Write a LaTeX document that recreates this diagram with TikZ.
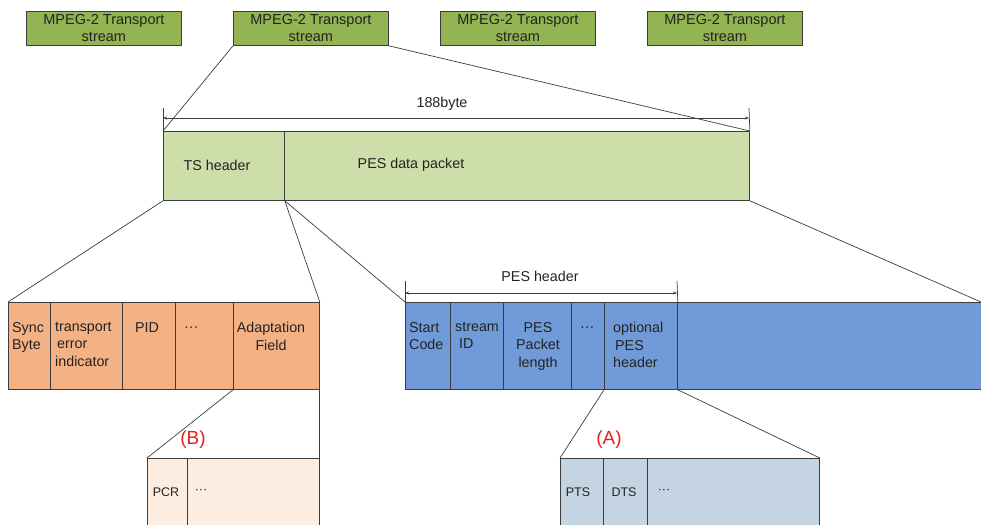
\documentclass[tikz,border=0pt]{standalone}
\usepackage{fontspec}
\setmainfont{Liberation Sans}
\usetikzlibrary{arrows.meta}
\definecolor{bordc}{RGB}{60,60,60}
\definecolor{txtc}{RGB}{35,35,35}
\definecolor{topg}{RGB}{146,180,82}
\definecolor{tsg}{RGB}{205,222,170}
\definecolor{orng}{RGB}{244,177,132}
\definecolor{blu}{RGB}{112,155,216}
\definecolor{lorng}{RGB}{253,236,224}
\definecolor{lblu}{RGB}{197,212,227}
\definecolor{redl}{RGB}{230,30,30}
\tikzset{
  cell/.style={draw=bordc, line width=0.8pt, rectangle, inner sep=0pt, anchor=north west},
  topbox/.style={cell, fill=topg, minimum width=155pt, minimum height=34pt},
  lbl/.style={inner sep=0pt, text=txtc, font=\fontsize{14.3}{17.5}\selectfont},
  tlbl/.style={lbl, align=left, anchor=north west},
  clbl/.style={lbl, align=center, anchor=north},
  conn/.style={draw=bordc, line width=0.7pt},
  dimarrow/.style={draw=bordc, line width=0.7pt, {Stealth[length=4pt,width=3pt]}-{Stealth[length=4pt,width=3pt]}},
  tick/.style={draw=bordc, line width=0.7pt},
  redlbl/.style={inner sep=0pt, text=redl, font=\fontsize{19}{21}\selectfont}
}
\begin{document}
\begin{tikzpicture}[x=1pt,y=-1pt]
\useasboundingbox (0,0) rectangle (981,524);
\clip (0,0) rectangle (981,524);
% top boxes
\node[topbox] (t1) at (26,11) {};
\node[topbox] (t2) at (233,11) {};
\node[topbox] (t3) at (440,11) {};
\node[topbox] (t4) at (647,11) {};
\foreach \n in {t1,t2,t3,t4}{
  \node[lbl, align=center, font=\fontsize{14.5}{17.5}\selectfont] (\n txt) at ([yshift=0.5pt]\n.center) {MPEG-2 Transport\\stream};
}
% TS packet
\node[cell, fill=tsg, minimum width=121pt, minimum height=69pt] (tshdr) at (163,131) {};
\node[cell, fill=tsg, minimum width=465pt, minimum height=69pt] (pesdata) at (284,131) {};
\node[lbl] (tshdrtxt) at (217,165) {TS header};
\node[lbl] (pesdatatxt) at (411,165) {PES data packet};
% 188byte dimension
\coordinate (d1a) at (163,108);
\coordinate (d1b) at (749,108);
\coordinate (d1l) at (163,118);
\coordinate (d1r) at (749,118);
\draw[tick] (d1a) -- (tshdr.north west);
\draw[tick] (d1b) -- (pesdata.north east);
\draw[dimarrow] (d1l) -- (d1r);
\node[lbl] (bytetxt) at (442,104) {188byte};
\draw[conn] (t2.south west) -- (tshdr.north west);
\draw[conn] (t2.south east) -- (pesdata.north east);
% TS header fields
\node[cell, fill=orng, minimum width=42pt, minimum height=87pt] (sync) at (8,302) {};
\node[cell, fill=orng, minimum width=72pt, minimum height=87pt] (tei) at (50,302) {};
\node[cell, fill=orng, minimum width=53pt, minimum height=87pt] (pid) at (122,302) {};
\node[cell, fill=orng, minimum width=58pt, minimum height=87pt] (odots) at (175,302) {};
\node[cell, fill=orng, minimum width=86pt, minimum height=87pt] (adapt) at (233,302) {};
\node[tlbl] (synctxt) at (12,322) {Sync\\Byte};
\node[tlbl] (teitxt) at (55,322) {transport\\\hspace{2pt}error\\indicator};
\node[tlbl] (pidtxt) at (135,322) {PID};
\node[tlbl] (odotstxt) at (184,327) {···};
\node[clbl] (adapttxt) at (271,322) {Adaptation\\Field};
\draw[conn] (tshdr.south west) -- (sync.north west);
\draw[conn] (tshdr.south east) -- (adapt.north east);
% PES fields
\node[cell, fill=blu, minimum width=45pt, minimum height=87pt] (start) at (405,302) {};
\node[cell, fill=blu, minimum width=53pt, minimum height=87pt] (sid) at (450,302) {};
\node[cell, fill=blu, minimum width=68pt, minimum height=87pt] (plen) at (503,302) {};
\node[cell, fill=blu, minimum width=33pt, minimum height=87pt] (pdots) at (571,302) {};
\node[cell, fill=blu, minimum width=73pt, minimum height=87pt] (opt) at (604,302) {};
\node[cell, fill=blu, minimum width=310pt, minimum height=87pt] (ptail) at (677,302) {};
\node[tlbl] (starttxt) at (409,322) {Start\\Code};
\node[tlbl] (sidtxt) at (455,322) {stream\\\hspace{4pt}ID};
\node[clbl] (plentxt) at (538,322) {PES\\Packet\\length};
\node[tlbl] (pdotstxt) at (580,327) {···};
\node[tlbl] (opttxt) at (613,322) {optional\\\hspace{2pt}PES\\header};
\coordinate (pend) at (981,302);
\draw[conn] (tshdr.south east) -- (start.north west);
\draw[conn] (pesdata.south east) -- (pend);
% PES header dimension
\coordinate (d2a) at (405,281);
\coordinate (d2b) at (677,281);
\coordinate (d2l) at (405,293);
\coordinate (d2r) at (677,293);
\draw[tick] (d2a) -- (start.north west);
\draw[tick] (d2b) -- (opt.north east);
\draw[dimarrow] (d2l) -- (d2r);
\node[lbl] (pestxt) at (540,276) {PES header};
% (B) adaptation field detail
\node[cell, fill=lorng, minimum width=40pt, minimum height=80pt] (pcr) at (147,458) {};
\node[cell, fill=lorng, minimum width=132pt, minimum height=80pt] (brest) at (187,458) {};
\node[lbl, font=\fontsize{12.5}{15}\selectfont] (pcrtxt) at (166,492) {PCR};
\node[lbl, font=\fontsize{12.5}{15}\selectfont] (bdots) at (201,491.5) {···};
\draw[conn] (adapt.south west) -- (pcr.north west);
\draw[conn] (adapt.south east) -- (brest.north east);
\node[redlbl] (blabel) at (193,440) {(B)};
% (A) optional PES header detail
\node[cell, fill=lblu, minimum width=43pt, minimum height=80pt] (pts) at (560,458) {};
\node[cell, fill=lblu, minimum width=44pt, minimum height=80pt] (dts) at (603,458) {};
\node[cell, fill=lblu, minimum width=172pt, minimum height=80pt] (arest) at (647,458) {};
\node[lbl, font=\fontsize{12.5}{15}\selectfont] (ptstxt) at (578,492) {PTS};
\node[lbl, font=\fontsize{12.5}{15}\selectfont] (dtstxt) at (624,492) {DTS};
\node[lbl, font=\fontsize{12.5}{15}\selectfont] (adots) at (664,491.5) {···};
\draw[conn] (opt.south west) -- (pts.north west);
\draw[conn] (opt.south east) -- (arest.north east);
\node[redlbl] (alabel) at (609,440) {(A)};
\end{tikzpicture}
\end{document}
